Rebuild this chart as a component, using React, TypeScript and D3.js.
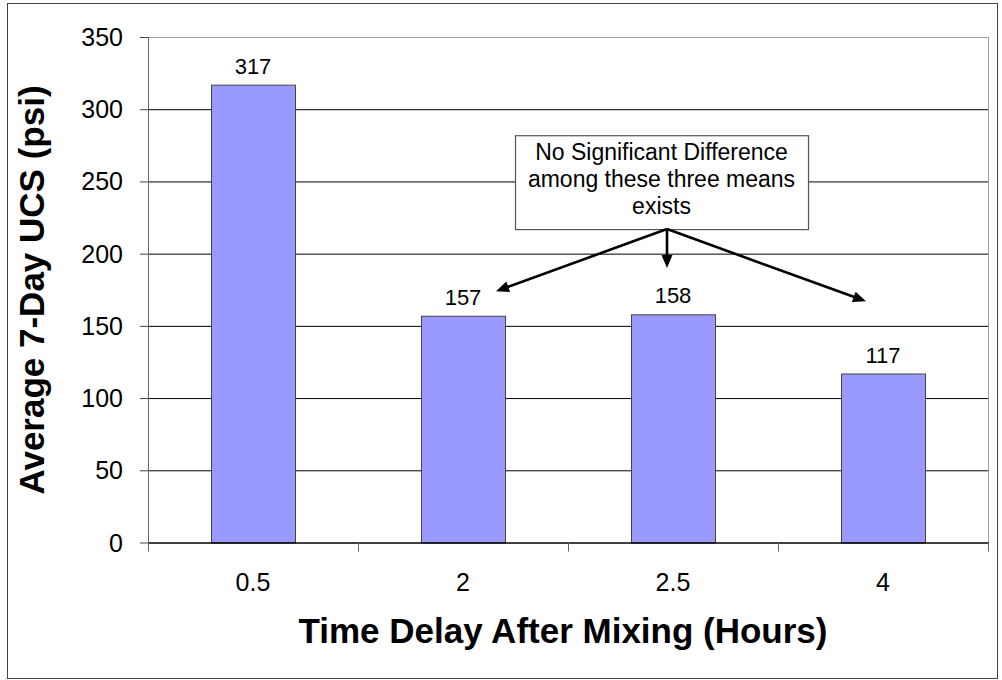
import React from "react";
import * as d3 from "d3";

const categories = ["0.5", "2", "2.5", "4"];
const values = [317, 157, 158, 117];
const yTicks = [0, 50, 100, 150, 200, 250, 300, 350];
const annotationLines = ["No Significant Difference", "among these three means", "exists"];

const W = 1002;
const H = 680;
const M = { left: 148, right: 988, top: 37, bottom: 542.5 };
const FONT = "'Liberation Sans', Arial, sans-serif";

export default function App() {
  const x = d3.scaleBand<string>().domain(categories).range([M.left, M.right]).paddingInner(0.6).paddingOuter(0.3);
  const xb = d3.scaleBand<string>().domain(categories).range([M.left, M.right]);
  const y = d3.scaleLinear().domain([0, 350]).range([M.bottom, M.top]);

  const bounds = [M.left, ...categories.map((c) => (xb(c) as number) + xb.bandwidth())];
  const cx = (c: string) => (xb(c) as number) + xb.bandwidth() / 2;

  // annotation geometry (data space)
  const boxX0 = cx("2") + 52;
  const boxX1 = cx("2.5") + 135;
  const boxTop = y(282);
  const boxBot = y(217);
  const origin = { x: cx("2.5") - 6, y: boxBot };
  const tips = [
    { x: cx("2") + 33, y: y(174) },
    { x: cx("2.5") - 6, y: y(190) },
    { x: cx("4") - 17, y: y(167) },
  ];

  const arrow = (t: { x: number; y: number }, i: number) => {
    const dx = t.x - origin.x;
    const dy = t.y - origin.y;
    const len = Math.sqrt(dx * dx + dy * dy);
    const ux = dx / len, uy = dy / len;
    const hl = 13, hw = 5.5;
    const bx = t.x - ux * hl, by = t.y - uy * hl;
    const px = -uy, py = ux;
    const head = `M${t.x},${t.y} L${bx + px * hw},${by + py * hw} L${bx - px * hw},${by - py * hw} Z`;
    return (
      <g key={i}>
        <line x1={origin.x} y1={origin.y} x2={bx + ux * 2} y2={by + uy * 2} stroke="#000" strokeWidth={2.6} />
        <path d={head} fill="#000" />
      </g>
    );
  };

  return (
    <svg width={W} height={H} style={{ position: "absolute", left: 0, top: 0, background: "#fff" }} fontFamily={FONT}>
      <rect x={7.5} y={3.5} width={990} height={675} fill="#fff" stroke="#444" strokeWidth={1} />
      {/* gridlines */}
      {yTicks.filter((t) => t > 0 && t < 350).map((t) => (
        <line key={t} x1={M.left} x2={M.right} y1={y(t) + 0.5} y2={y(t) + 0.5} stroke="#000" strokeWidth={1} />
      ))}
      {/* plot area border top/right */}
      <line x1={M.left} x2={M.right} y1={y(350) + 0.5} y2={y(350) + 0.5} stroke="#a0a0a0" strokeWidth={1} />
      <line x1={M.right + 0.5} x2={M.right + 0.5} y1={M.top} y2={M.bottom} stroke="#a0a0a0" strokeWidth={1} />
      {/* bars */}
      {categories.map((c, i) => (
        <rect key={c} x={(x(c) as number) + 0.5} y={y(values[i]) + 0.5} width={x.bandwidth()} height={M.bottom - y(values[i])}
          fill="#9999FF" stroke="#444" strokeWidth={1} />
      ))}
      {/* y axis */}
      <line x1={M.left + 0.5} x2={M.left + 0.5} y1={M.top} y2={M.bottom} stroke="#666" strokeWidth={1} />
      {yTicks.map((t) => (
        <g key={t}>
          <line x1={M.left - 8} x2={M.left} y1={y(t) + 0.5} y2={y(t) + 0.5} stroke="#444" strokeWidth={1} />
          <text x={123} y={y(t) + 9} textAnchor="end" fontSize={25} fill="#000">{t}</text>
        </g>
      ))}
      {/* x axis */}
      <line x1={M.left} x2={M.right + 1} y1={M.bottom + 0.5} y2={M.bottom + 0.5} stroke="#000" strokeWidth={1.5} />
      {bounds.map((b, i) => (
        <line key={i} x1={b + 0.5} x2={b + 0.5} y1={M.bottom} y2={M.bottom + 9} stroke="#666" strokeWidth={1} />
      ))}
      {categories.map((c) => (
        <text key={c} x={cx(c)} y={591} textAnchor="middle" fontSize={25} fill="#000">{c}</text>
      ))}
      {/* value labels */}
      {categories.map((c, i) => (
        <text key={c} x={cx(c)} y={y(values[i]) - 11} textAnchor="middle" fontSize={22} fill="#000">{values[i]}</text>
      ))}
      {/* titles */}
      <text x={563} y={643} textAnchor="middle" fontSize={35} fontWeight="bold" fill="#000">Time Delay After Mixing (Hours)</text>
      <text transform={`translate(44,290) rotate(-90)`} textAnchor="middle" fontSize={35} fontWeight="bold" fill="#000">Average 7-Day UCS (psi)</text>
      {/* annotation */}
      <rect x={boxX0 + 0.5} y={boxTop + 0.5} width={boxX1 - boxX0} height={boxBot - boxTop} fill="#fff" stroke="#555" strokeWidth={1.2} />
      {annotationLines.map((l, i) => (
        <text key={i} x={(boxX0 + boxX1) / 2} y={boxTop + 25 + i * 27} textAnchor="middle" fontSize={23} fill="#000">{l}</text>
      ))}
      {tips.map(arrow)}
    </svg>
  );
}
